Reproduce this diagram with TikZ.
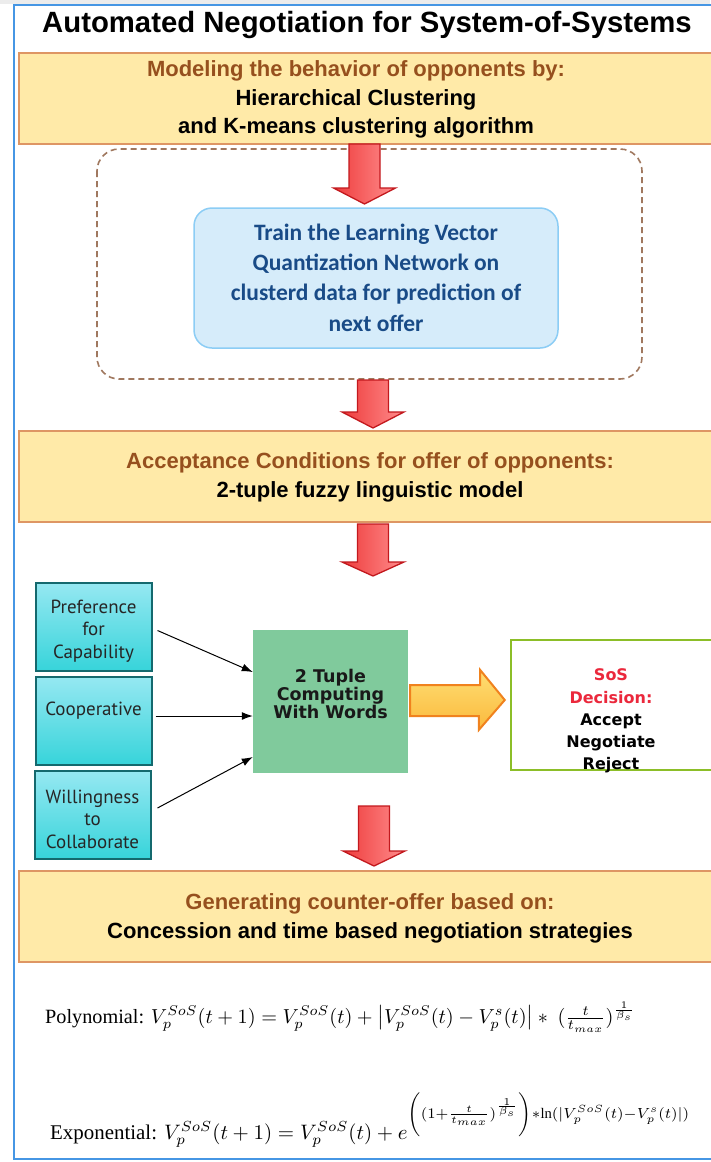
\documentclass[tikz,border=0pt]{standalone}
\usepackage{fontspec}
\usepackage{amsmath}
\setmainfont{Liberation Sans}
\newfontfamily\lvqfont{Carlito}
\newfontfamily\ptfont{PT Sans}
\newfontfamily\djfont{DejaVu Sans}
\newfontfamily\tnrfont{Liberation Serif}
\usetikzlibrary{calc,arrows.meta}
\definecolor{framecol}{RGB}{70,150,228}
\definecolor{yfill}{RGB}{255,234,168}
\definecolor{ydraw}{RGB}{222,150,100}
\definecolor{browntxt}{RGB}{150,80,30}
\definecolor{dashcol}{RGB}{160,120,95}
\definecolor{lvqfill}{RGB}{214,236,250}
\definecolor{lvqdraw}{RGB}{140,205,245}
\definecolor{lvqtxt}{RGB}{25,75,135}
\definecolor{redA}{RGB}{238,60,60}
\definecolor{redB}{RGB}{255,140,140}
\definecolor{redD}{RGB}{195,25,30}
\definecolor{cyanT}{RGB}{150,232,242}
\definecolor{cyanB}{RGB}{55,212,218}
\definecolor{cyanD}{RGB}{20,105,110}
\definecolor{greenbox}{RGB}{128,202,156}
\definecolor{sosdraw}{RGB}{140,190,40}
\definecolor{sosred}{RGB}{235,40,60}
\definecolor{orT}{RGB}{255,222,115}
\definecolor{orB}{RGB}{250,185,60}
\definecolor{orD}{RGB}{240,130,30}
\newcommand{\redarr}[4]{%
  \path[draw=redD, line width=1.3pt, left color=redA, right color=redB, line join=miter]
    ({#1-15.5},#2) -- ({#1+15.5},#2) -- ({#1+15.5},#3) -- ({#1+31},#3) --
    (#1,#4) -- ({#1-31},#3) -- ({#1-15.5},#3) -- cycle;}
\newcommand{\lnop}{\mathop{\text{\tnrfont ln}}\nolimits}
\begin{document}
\begin{tikzpicture}[x=1pt,y=-1pt,
  ybox/.style={draw=ydraw, fill=yfill, line width=2.5pt, minimum width=701pt, minimum height=91pt, inner sep=0pt},
  ytext/.style={align=center, font=\fontsize{22}{28.8}\selectfont\bfseries, inner sep=0pt},
  cbox/.style={draw=cyanD, line width=2pt, top color=cyanT, bottom color=cyanB, minimum width=116pt, minimum height=88pt, inner sep=0pt},
  ctext/.style={align=center, font=\ptfont\fontsize{19}{22.5}\selectfont, text=black!85, inner sep=0pt},
  inarrow/.style={-{Latex[length=11pt,width=8pt]}, line width=1pt, black}
]
\useasboundingbox (0,0) rectangle (710,1162);
\fill[white] (0,0) rectangle (710,1162);
\fill[gray!15] (0,0) rectangle (710,4);
\draw[framecol, line width=2.5pt] (14,5) rectangle (730,1159);

% title
\node[font=\fontsize{29.3}{34}\selectfont\bfseries, inner sep=0pt] (title) at (367,25) {Automated Negotiation for System-of-Systems};

% box 1
\node[ybox] (b1) at (369.5,98.5) {};
\node[ytext] (t1) at (356,99.5) {\textcolor{browntxt}{Modeling the behavior of opponents by:}\\Hierarchical Clustering\\and K-means clustering algorithm};

% dashed region
\draw[dashcol, line width=1.6pt, dash pattern=on 6pt off 4pt, rounded corners=22pt] (97,149) rectangle (642,379);

% LVQ box
\node[draw=lvqdraw, line width=1.5pt, fill=lvqfill, rounded corners=18pt, minimum width=364pt, minimum height=140pt, inner sep=0pt] (lvq) at (376,278) {};
\node[align=center, font=\lvqfont\fontsize{23.5}{30.3}\selectfont\bfseries, text=lvqtxt, inner sep=0pt] (lvqt) at (376,277.5) {Train the Learning Vector\\Quantization Network on\\clusterd data for prediction of\\next offer};

% box 2
\node[ybox] (b2) at (369.5,476.5) {};
\node[ytext] (t2) at (370,477.5) {\textcolor{browntxt}{Acceptance Conditions for offer of opponents:}\\2-tuple fuzzy linguistic model};

% cyan inputs
\node[cbox] (c1) at (93.5,626.5) {};
\node[ctext] (c1t) at (93.5,631) {Preference\\for\\Capability};
\node[cbox] (c2) at (93.5,720.5) {};
\node[ctext] (c2t) at (93.5,711) {Cooperative};
\node[cbox] (c3) at (92.5,814.5) {};
\node[ctext] (c3t) at (92.5,819) {Willingness\\to\\Collaborate};

% green box
\node[fill=greenbox, minimum width=155pt, minimum height=143pt, inner sep=0pt] (g) at (330.5,701.5) {};
\node[align=center, font=\djfont\fontsize{17.5}{16.5}\selectfont\bfseries, text=black!90, inner sep=0pt] (gt) at (330.5,694) {2 Tuple\\Computing\\With Words};

% input arrows
\draw[inarrow] ($(c1.east)+(5,4)$) -- ($(g.west)+(0,-29.5)$);
\draw[inarrow] ($(c2.east)+(3,-4.5)$) -- ($(g.west)+(0,14.5)$);
\draw[inarrow] ($(c3.east)+(6,-6.5)$) -- ($(g.west)+(0,55.5)$);

% SoS decision box
\node[draw=sosdraw, line width=2.5pt, fill=white, minimum width=209pt, minimum height=130pt, inner sep=0pt] (sos) at (615.5,705) {};
\node[align=center, font=\djfont\fontsize{16}{22.2}\selectfont\bfseries, inner sep=0pt] (sost) at (611,721) {\textcolor{sosred}{SoS}\\\textcolor{sosred}{Decision:}\\Accept\\Negotiate\\Reject};

% orange block arrow
\path[draw=orD, line width=2pt, top color=orT, bottom color=orB, line join=miter]
  ($(g.east)+(2,-16.5)$) -- ++(70,0) -- ++(0,-15) -- ($(sos.west)+(-5,-5)$) -- ++(-26,30) -- ++(0,-14) -- ($(g.east)+(2,14.5)$) -- cycle;

% box 3
\node[ybox] (b3) at (369.5,916.5) {};
\node[ytext] (t3) at (370,918) {\textcolor{browntxt}{Generating counter-offer based on:}\\Concession and time based negotiation strategies};

% red block arrows
\redarr{364.5}{144}{188}{204}
\redarr{373}{380}{412}{428}
\redarr{373}{524}{562}{576}
\redarr{374}{806}{851}{866}

% formulas
\node[anchor=base west, inner sep=0pt] (f1) at (45,1023) {\resizebox{590pt}{!}{\tnrfont Polynomial: $V_p^{SoS}(t+1)=V_p^{SoS}(t)+\left|V_p^{SoS}(t)-V_p^{s}(t)\right| *\ (\frac{t}{t_{max}})^{\frac{1}{\beta_s}}$}};
\node[anchor=base west, inner sep=0pt] (f2) at (50,1139) {\resizebox{640pt}{!}{\tnrfont Exponential: $V_p^{SoS}(t+1)=V_p^{SoS}(t)+e^{\left(\vphantom{\dfrac{1}{1}}(1+\frac{t}{t_{max}})^{\frac{1}{\beta_s}}\right)*\lnop(|V_p^{SoS}(t)-V_p^{s}(t)|)}$}};
\end{tikzpicture}
\end{document}
